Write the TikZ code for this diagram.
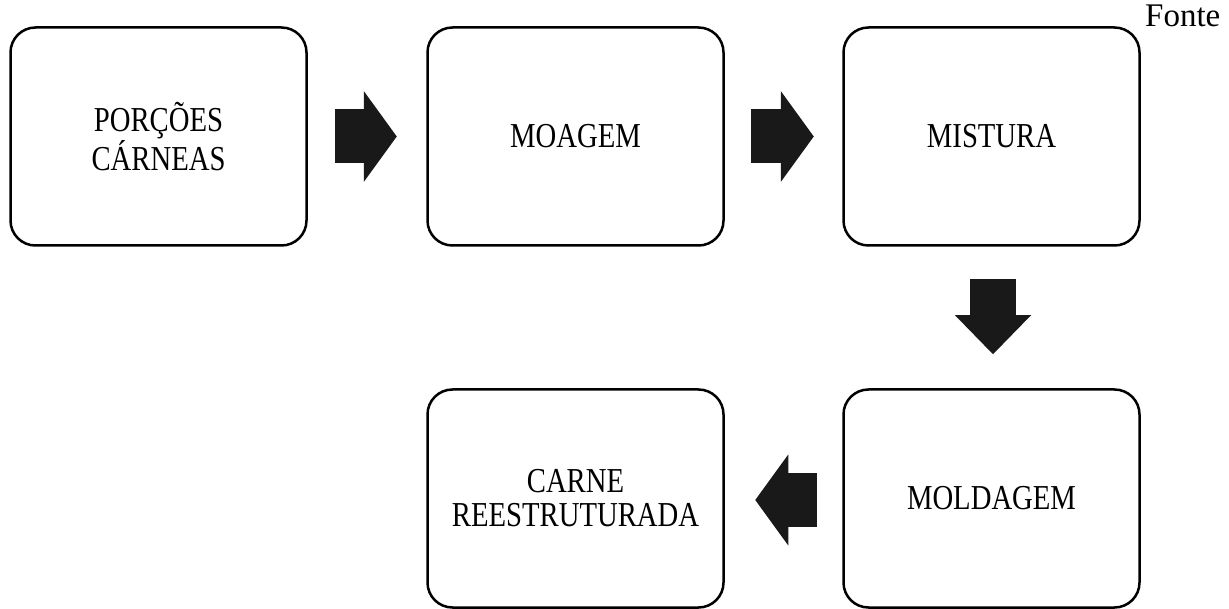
\documentclass[tikz,border=0pt]{standalone}
\usepackage{fontspec}
\setmainfont{Liberation Serif}
\newfontfamily\condfont[FakeStretch=0.82]{Liberation Serif}
\usetikzlibrary{arrows.meta,calc}
\tikzset{
  stepbox/.style={draw=black, line width=2.5pt, rounded corners=25pt, fill=white,
    minimum width=296pt, minimum height=218pt, inner sep=0pt,
    align=center, font=\condfont\fontsize{35}{34}\selectfont},
  hfat/.style={draw=black!90, line width=54pt,
    -{Triangle[length=33pt,width=91pt,line width=0pt]}},
  vfat/.style={draw=black!90, line width=46pt,
    -{Triangle[length=39pt,width=76pt,line width=0pt]}},
}
\begin{document}
\begin{tikzpicture}[x=1pt,y=-1pt]
\useasboundingbox (0,0) rectangle (1229,609);
\node[stepbox] (b1) at (158.5,136.5) {PORÇÕES\\CÁRNEAS};
\node[stepbox] (b2) at (575.5,136.5) {MOAGEM};
\node[stepbox] (b3) at (991.5,136.5) {MISTURA};
\node[stepbox] (b4) at (991.5,498.5) {MOLDAGEM};
\node[stepbox] (b5) at (575.5,498.5) {CARNE\\REESTRUTURADA};
\node[anchor=base west, inner sep=0pt, font=\fontsize{33}{33}\selectfont] (fonte) at (1145,27) {Fonte};
\coordinate (a1s) at ($(b1.east)+(27.5,0)$);
\coordinate (a1e) at ($(b2.west)+(-29.5,0)$);
\coordinate (a2s) at ($(b2.east)+(26.5,0)$);
\coordinate (a2e) at ($(b3.west)+(-28.5,0)$);
\coordinate (a3s) at ($(b3.south)+(1.5,32)$);
\coordinate (a3e) at ($(b4.north)+(1.5,-34)$);
\coordinate (a4s) at ($(b4.west)+(-25.5,1.5)$);
\coordinate (a4e) at ($(b5.east)+(30.5,1.5)$);
\draw[hfat] (a1s) -- (a1e);
\draw[hfat] (a2s) -- (a2e);
\draw[vfat] (a3s) -- (a3e);
\draw[hfat] (a4s) -- (a4e);
\end{tikzpicture}
\end{document}
